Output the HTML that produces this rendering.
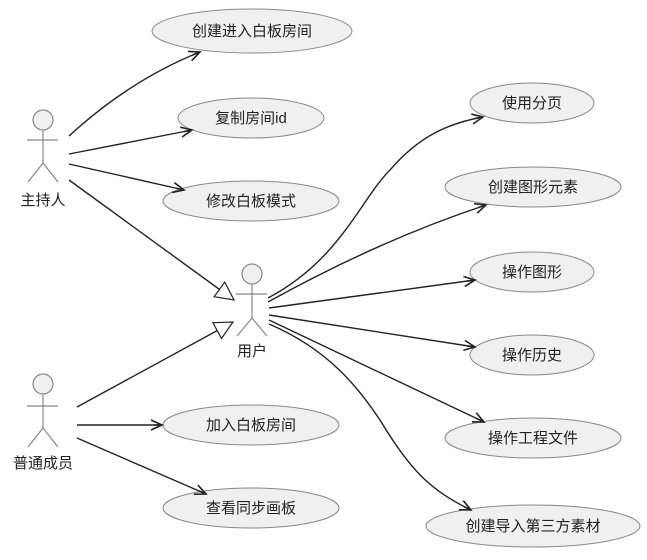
<!DOCTYPE html>
<html><head><meta charset="utf-8"><style>
html,body{margin:0;padding:0;background:#fff;width:647px;height:560px;overflow:hidden}
text{font-family:"Liberation Sans","Noto Sans CJK SC",sans-serif;font-size:15px;fill:#222}
</style></head><body>
<svg width="647" height="560" viewBox="0 0 647 560" xmlns="http://www.w3.org/2000/svg">
<defs>
<marker id="a" markerWidth="14" markerHeight="12" refX="12" refY="6" orient="auto" markerUnits="userSpaceOnUse">
<path d="M1,1 L12,6 L1,11 M12,6 L4,6" fill="none" stroke="#222" stroke-width="1.6"/>
</marker>
<marker id="t" markerWidth="22" markerHeight="22" refX="20" refY="11" orient="auto" markerUnits="userSpaceOnUse">
<path d="M2,2 L20,11 L2,20 Z" fill="#fff" stroke="#222" stroke-width="1.2"/>
</marker>
</defs>
<g fill="#f0f0f0" stroke="#888" stroke-width="1">
<ellipse cx="252" cy="31" rx="100" ry="22"/>
<ellipse cx="251" cy="118" rx="73" ry="20"/>
<ellipse cx="251" cy="201" rx="88" ry="20"/>
<ellipse cx="251" cy="425" rx="88" ry="20"/>
<ellipse cx="251" cy="508" rx="88" ry="20"/>
<ellipse cx="532" cy="103" rx="62" ry="20"/>
<ellipse cx="533" cy="187" rx="88" ry="20"/>
<ellipse cx="532" cy="272" rx="62" ry="20"/>
<ellipse cx="532" cy="355" rx="62" ry="20"/>
<ellipse cx="533" cy="438" rx="88" ry="20"/>
<ellipse cx="533" cy="526" rx="107" ry="21"/>
</g>
<g text-anchor="middle">
<text x="252" y="36">创建进入白板房间</text>
<text x="251" y="123">复制房间id</text>
<text x="251" y="206">修改白板模式</text>
<text x="251" y="430">加入白板房间</text>
<text x="251" y="513">查看同步画板</text>
<text x="532" y="108">使用分页</text>
<text x="533" y="192">创建图形元素</text>
<text x="532" y="277">操作图形</text>
<text x="532" y="360">操作历史</text>
<text x="533" y="443">操作工程文件</text>
<text x="533" y="531">创建导入第三方素材</text>
<text x="43" y="205">主持人</text>
<text x="252" y="356">用户</text>
<text x="43" y="468">普通成员</text>
</g>
<g fill="#f0f0f0" stroke="#888" stroke-width="1.2">
<circle cx="43" cy="120" r="10"/><path d="M43,130 V163 M27,140 H58 M43,163 L28,182 M43,163 L58,182" fill="none"/>
<circle cx="252" cy="274" r="10"/><path d="M252,284 V318 M236,294 H267 M252,318 L237,336 M252,318 L267,336" fill="none"/>
<circle cx="43" cy="384" r="10"/><path d="M43,394 V428 M27,406 H58 M43,428 L28,447 M43,428 L58,447" fill="none"/>
</g>
<g fill="none" stroke="#222" stroke-width="1.4">
<path d="M69,136 Q130,80 200,52" marker-end="url(#a)"/>
<path d="M69,154 L192,130" marker-end="url(#a)"/>
<path d="M69,164 L184,190" marker-end="url(#a)"/>
<path d="M69,180 L234,300" marker-end="url(#t)"/>
<path d="M77,407 L233,322" marker-end="url(#t)"/>
<path d="M77,425 L162,425" marker-end="url(#a)"/>
<path d="M77,438 L206,494" marker-end="url(#a)"/>
<path d="M268,298 C340,260 360,200 390,170 C420,135 450,123 483,117" marker-end="url(#a)"/>
<path d="M268,302 Q380,240 486,205" marker-end="url(#a)"/>
<path d="M269,308 L475,280" marker-end="url(#a)"/>
<path d="M269,315 L475,347" marker-end="url(#a)"/>
<path d="M269,320 L484,422" marker-end="url(#a)"/>
<path d="M269,324 C330,350 360,390 380,420 C410,470 430,490 471,510" marker-end="url(#a)"/>
</g>
</svg>
</body></html>
